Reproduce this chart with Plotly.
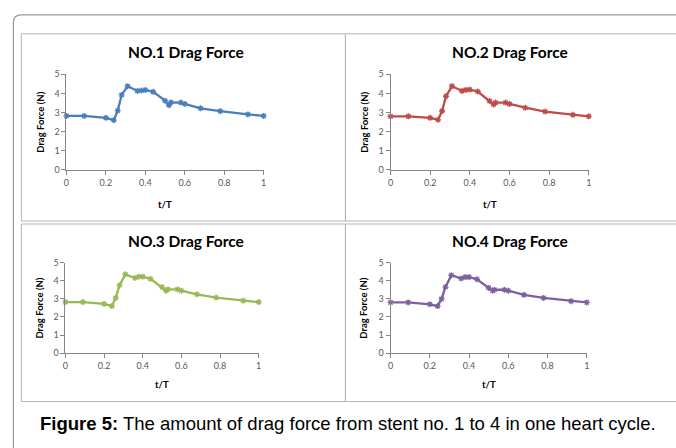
import plotly.graph_objects as go

W, H = 676, 448

t = [0, 0.09, 0.2, 0.24, 0.26, 0.28, 0.31, 0.36, 0.38, 0.40, 0.44, 0.50, 0.52, 0.53, 0.58, 0.60, 0.68, 0.78, 0.92, 1.0]
drag1 = [2.82, 2.82, 2.72, 2.60, 3.10, 3.92, 4.38, 4.13, 4.15, 4.18, 4.08, 3.62, 3.38, 3.53, 3.52, 3.45, 3.22, 3.07, 2.90, 2.82]
drag2 = [2.80, 2.80, 2.72, 2.62, 3.08, 3.85, 4.38, 4.13, 4.18, 4.20, 4.10, 3.60, 3.42, 3.52, 3.52, 3.45, 3.25, 3.05, 2.88, 2.80]
drag3 = [2.82, 2.82, 2.72, 2.60, 3.05, 3.75, 4.35, 4.15, 4.22, 4.22, 4.10, 3.65, 3.45, 3.52, 3.52, 3.45, 3.25, 3.07, 2.90, 2.82]
drag4 = [2.80, 2.80, 2.70, 2.60, 3.00, 3.65, 4.30, 4.12, 4.20, 4.20, 4.08, 3.60, 3.45, 3.50, 3.50, 3.45, 3.22, 3.05, 2.87, 2.80]

titles = ["NO.1 Drag Force", "NO.2 Drag Force", "NO.3 Drag Force", "NO.4 Drag Force"]
colors = ["#4A7EBB", "#BE4B48", "#98B954", "#7D60A0"]
series = [drag1, drag2, drag3, drag4]
y_ticks = [0, 1, 2, 3, 4, 5]
x_ticks = [0, 0.2, 0.4, 0.6, 0.8, 1]

# plot-area pixel boxes (x0, x1, ytop, ybottom)
boxes = [(64, 263, 70, 168), (391, 591, 70, 168), (63, 258, 263, 356), (391, 589, 263, 356)]
title_pos = [(185, 47), (512, 47), (185, 241), (512, 241)]
ytitle_x = [37, 364, 37, 364]
xtitle_y = [203, 203, 388, 388]


def px(x):
    return x / W


def py(y):
    return 1 - y / H


fig = go.Figure()
annotations = []
shapes = []
for i in range(4):
    xa = "x" if i == 0 else f"x{i+1}"
    ya = "y" if i == 0 else f"y{i+1}"
    fig.add_trace(go.Scatter(
        x=t, y=series[i], xaxis=xa, yaxis=ya, mode="lines+markers",
        line=dict(color=colors[i], width=2.3),
        marker=dict(symbol="asterisk-open", size=5, line=dict(color=colors[i], width=1.3)),
        cliponaxis=False, showlegend=False,
    ))
    x0, x1, yt, yb = boxes[i]
    axis_common = dict(showgrid=False, zeroline=False, showline=True, linecolor="#868686", linewidth=1,
                       ticks="outside", ticklen=4, tickcolor="#868686",
                       tickfont=dict(family="Lato", size=9, color="#595959"))
    fig.layout[f"xaxis{'' if i == 0 else i+1}"] = dict(
        domain=[px(x0), px(x1)], range=[0, 1], anchor=ya, tickvals=x_ticks,
        ticktext=[str(v) if v not in (0, 1) else str(int(v)) for v in x_ticks], **axis_common)
    fig.layout[f"yaxis{'' if i == 0 else i+1}"] = dict(
        domain=[py(yb), py(yt)], range=[0, 5], anchor=xa, tickvals=y_ticks, **axis_common)
    annotations.append(dict(text=f"<b>{titles[i]}</b>", x=px(title_pos[i][0]), y=py(title_pos[i][1]),
                            xref="paper", yref="paper", showarrow=False,
                            font=dict(family="Lato", size=15.5, color="#000000"),
                            xanchor="center", yanchor="middle"))
    annotations.append(dict(text="<b>Drag Force (N)</b>", x=px(ytitle_x[i]), y=py((yt + yb) / 2),
                            xref="paper", yref="paper", showarrow=False, textangle=-90,
                            font=dict(family="Lato", size=9.5, color="#000000"),
                            xanchor="center", yanchor="middle"))
    annotations.append(dict(text="<b>t/T</b>", x=px((x0 + x1) / 2), y=py(xtitle_y[i]),
                            xref="paper", yref="paper", showarrow=False,
                            font=dict(family="Lato", size=9.5, color="#000000"),
                            xanchor="center", yanchor="middle"))

annotations.append(dict(text="<b>Figure 5:</b> The amount of drag force from stent no. 1 to 4 in one heart cycle.",
                        x=px(348), y=py(428), xref="paper", yref="paper", showarrow=False,
                        font=dict(family="Liberation Sans", size=18.5, color="#000000"),
                        xanchor="center", yanchor="middle"))

# outer rounded frame
shapes.append(dict(type="path", xref="paper", yref="paper",
                   path=f"M {px(10.5)},{py(460)} L {px(10.5)},{py(17)} Q {px(10.5)},{py(9)} {px(18.5)},{py(9)} L {px(690)},{py(9)}",
                   line=dict(color="#9A9A9A", width=1.2)))
# panel borders
panels = [(18, 345, 28, 220), (345, 690, 28, 220), (18, 345, 223, 405), (345, 690, 223, 405)]
for (a, b, c, d) in panels:
    shapes.append(dict(type="rect", xref="paper", yref="paper", x0=px(a + 0.5), x1=px(b + 0.5),
                       y0=py(d + 0.5), y1=py(c + 0.5), line=dict(color="#B5B5B5", width=1)))

fig.update_layout(width=W, height=H, margin=dict(l=0, r=0, t=0, b=0),
                  paper_bgcolor="white", plot_bgcolor="white",
                  annotations=annotations, shapes=shapes)

fig.write_html("out.html")
